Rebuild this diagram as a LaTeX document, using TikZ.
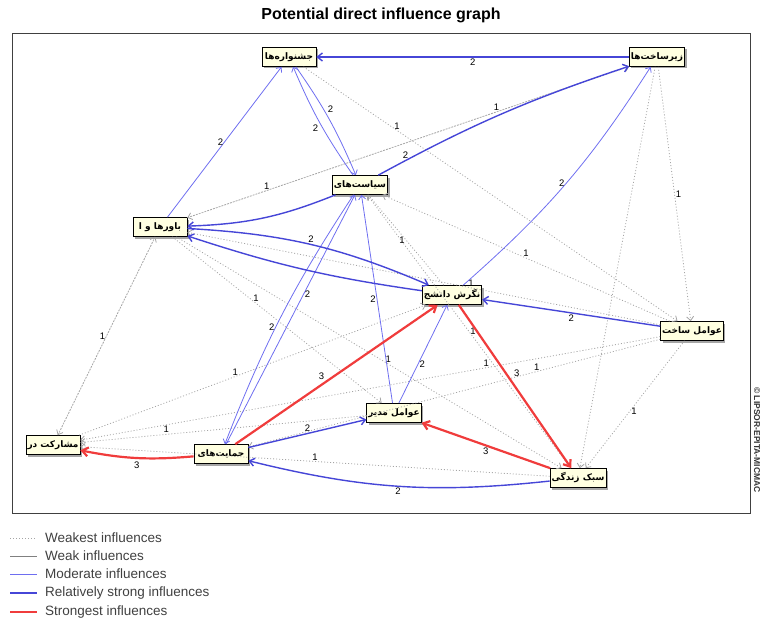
\documentclass[tikz,border=0pt]{standalone}
\usepackage{fontspec}
\setmainfont{Liberation Sans}
\newfontfamily\fa[Script=Arabic]{DejaVu Sans}
\TeXXeTstate=1
\usetikzlibrary{arrows.meta,shadows}
\definecolor{modblue}{RGB}{110,110,240}
\definecolor{strblue}{RGB}{70,70,215}
\definecolor{redc}{RGB}{240,60,60}
\definecolor{dotc}{RGB}{165,165,165}
\definecolor{boxfill}{RGB}{255,255,225}
\begin{document}
\begin{tikzpicture}[x=1pt,y=-1pt,
  vbox/.style={draw=black,fill=boxfill,line width=0.7pt,minimum width=54pt,minimum height=19pt,inner sep=1.5pt,
     font=\fa\bfseries\fontsize{9}{10}\selectfont,drop shadow={shadow xshift=2pt,shadow yshift=-2pt,fill=gray!70,opacity=1}},
  wst/.style={draw=dotc,line width=0.8pt,dash pattern=on 1pt off 2pt,-{Straight Barb[length=4pt,width=7pt]}},
  mod/.style={draw=modblue,line width=0.8pt,-{Straight Barb[length=4pt,width=7pt]}},
  rst/.style={draw=strblue,line width=1.4pt,-{Straight Barb[length=5pt,width=8pt]}},
  sgt/.style={draw=redc,line width=2.2pt,-{Straight Barb[length=6pt,width=9pt]}},
  lbl/.style={font=\fontsize{9.5}{10}\selectfont,text=black,inner sep=1pt},
  leg/.style={font=\fontsize{13.5}{14}\selectfont,text=black!75,anchor=west,inner sep=0pt}]
\useasboundingbox (0,0) rectangle (763,623);
\node[font=\bfseries\fontsize{16}{18}\selectfont] (title) at (381,15) {Potential direct influence graph};
\draw[line width=0.8pt,draw=black!75] (12,33) rectangle (750,513);
\node[rotate=-90,font=\bfseries\fontsize{8.5}{9}\selectfont,text=black!80] (copy) at (757,440) {© LIPSOR-EPITA-MICMAC};

% nodes
\node[vbox] (J) at (289,57) {\beginR جشنواره‌ها\endR};
\node[vbox] (Z) at (657,57) {\beginR زیرساخت‌ها\endR};
\node[vbox] (S) at (360,185) {\beginR سیاست‌های\endR};
\node[vbox] (B) at (160,227) {\beginR باورها و ا\endR};
\node[vbox] (N) at (452,295) {\beginR نگرش دانشج\endR};
\node[vbox] (A) at (692,331) {\beginR عوامل ساخت\endR};
\node[vbox] (M) at (394,413) {\beginR عوامل مدیر\endR};
\node[vbox] (P) at (53,445) {\beginR مشارکت در\endR};
\node[vbox] (H) at (221,454) {\beginR حمایت‌های\endR};
\node[vbox] (L) at (578,478) {\beginR سبک زندگی\endR};

% weakest (dotted)
\draw[wst] (Z) -- node[lbl,pos=0.5,right]{1} (A);
\draw[wst] (Z) -- node[lbl,pos=0.3,above]{1} (B);
\draw[wst] (B) -- node[lbl,pos=0.18,above]{1} (Z);
\draw[wst] (J) -- node[lbl,pos=0.25,above]{1} (A);
\draw[wst] (P) -- node[lbl,pos=0.5,left]{1} (B);
\draw[wst] (B) -- (P);
\draw[wst] (A) -- node[lbl,pos=0.5,above]{1} (S);
\draw[wst] (A) -- node[lbl,pos=0.4,above]{1} (B);
\draw[wst] (A) -- node[lbl,pos=0.3,above]{1} (P);
\draw[wst] (A) -- node[lbl,pos=0.3,above]{1} (H);
\draw[wst] (A) -- node[lbl,pos=0.55,right]{1} (L);
\draw[wst] (B) -- node[lbl,pos=0.55,above]{1} (L);
\draw[wst] (B) -- node[lbl,pos=0.4,above]{1} (M);
\draw[wst] (P) -- node[lbl,pos=0.45,above]{1} (N);
\draw[wst] (L) -- node[lbl,pos=0.5,right]{1} (S);
\draw[wst] (M) -- node[lbl,pos=0.7,above]{1} (P);
\draw[wst] (L) -- node[lbl,pos=0.5,above]{1} (P);
\draw[wst] (N) -- node[lbl,pos=0.5,left]{1} (S);
\draw[wst] (Z) -- (L);

% moderate
\draw[mod] (N) to[bend right=8] node[lbl,pos=0.5,left]{2} (Z);
\draw[mod] (J) to[bend left=6] node[lbl,pos=0.4,right=3pt]{2} (S);
\draw[mod] (S) to[bend left=6] node[lbl,pos=0.45,left=3pt]{2} (J);
\draw[mod] (B) -- node[lbl,pos=0.5,left]{2} (J);
\draw[mod] (H) -- node[lbl,pos=0.6,right]{2} (S);
\draw[mod] (S) to[bend right=6] node[lbl,pos=0.55,left]{2} (H);
\draw[mod] (M) -- node[lbl,pos=0.5,left]{2} (S);
\draw[mod] (M) -- node[lbl,pos=0.4,right]{2} (N);

% relatively strong
\draw[rst] (Z) -- node[lbl,pos=0.5,below]{2} (J);
\draw[rst] (S) to[bend left=5] node[lbl,pos=0.1,above]{2} (Z);
\draw[rst] (S) to[bend left=10] (B);
\draw[rst] (B) to[bend left=10] node[lbl,pos=0.5,above]{2} (N);
\draw[rst] (N) to[bend left=5] (B);
\draw[rst] (A) -- node[lbl,pos=0.5,below]{2} (N);
\draw[rst] (L) to[bend left=10] node[lbl,pos=0.5,below]{2} (H);
\draw[rst] (H) -- node[lbl,pos=0.5,above]{2} (M);

% strongest
\draw[sgt] (H) to[bend left=8] node[lbl,pos=0.5,below=2pt]{3} (P);
\draw[sgt] (H) -- node[lbl,pos=0.45,above left]{3} (N);
\draw[sgt] (N) -- node[lbl,pos=0.42,right=6pt]{3} (L);
\draw[sgt] (L) -- node[lbl,pos=0.5,below]{3} (M);

% legend
\coordinate (l1a) at (10,538); \coordinate (l1b) at (37,538);
\coordinate (l2a) at (10,556); \coordinate (l2b) at (37,556);
\coordinate (l3a) at (10,574); \coordinate (l3b) at (37,574);
\coordinate (l4a) at (10,593); \coordinate (l4b) at (37,593);
\coordinate (l5a) at (10,612); \coordinate (l5b) at (37,612);
\draw[draw=dotc,line width=0.8pt,dash pattern=on 1pt off 2pt] (l1a) -- (l1b);
\draw[draw=gray,line width=0.9pt] (l2a) -- (l2b);
\draw[draw=modblue,line width=0.9pt] (l3a) -- (l3b);
\draw[draw=strblue,line width=1.6pt] (l4a) -- (l4b);
\draw[draw=redc,line width=2.2pt] (l5a) -- (l5b);
\node[leg] (t1) at (45,538) {Weakest influences};
\node[leg] (t2) at (45,556) {Weak influences};
\node[leg] (t3) at (45,574) {Moderate influences};
\node[leg] (t4) at (45,593) {Relatively strong influences};
\node[leg] (t5) at (45,612) {Strongest influences};
\end{tikzpicture}
\end{document}
